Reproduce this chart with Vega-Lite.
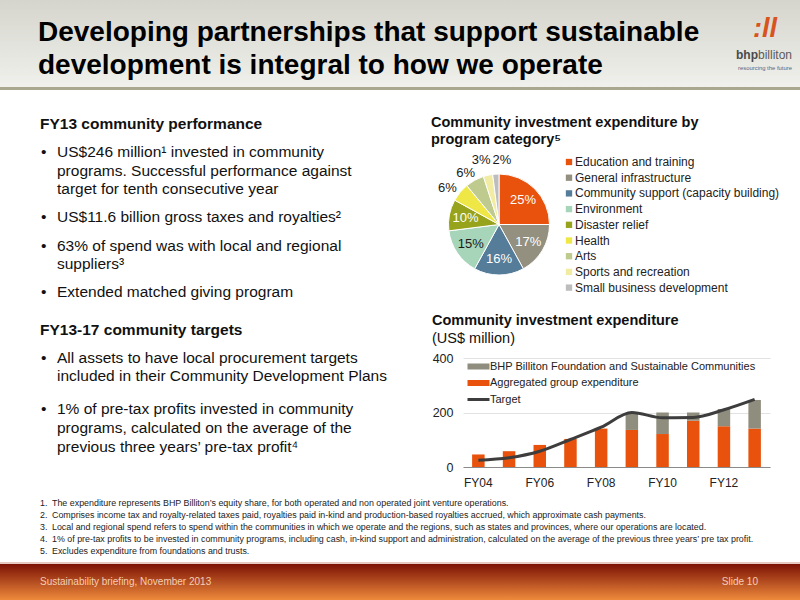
{
  "$schema": "https://vega.github.io/schema/vega-lite/v6.json",
  "padding": 0,
  "autosize": {"type": "pad"},
  "background": "white",
  "bounds": "full",
  "spacing": 0,
  "resolve": {"scale": {"color": "independent"}, "legend": {"color": "independent"}},
  "config": {"font": "Liberation Sans", "view": {"stroke": null}},
  "datasets": {
    "header": [
      {"part": "title", "role": "title", "line": 1, "text": "Developing partnerships that support sustainable"},
      {"part": "title", "role": "title", "line": 2, "text": "development is integral to how we operate"},
      {"part": "logo", "role": "glyph", "line": 0.88, "text": ":ll"},
      {"part": "logo", "role": "bhp", "line": 1.667, "text": "bhp"},
      {"part": "logo", "role": "billiton", "line": 1.667, "text": "billiton"},
      {"part": "logo", "role": "tagline", "line": 2.06, "text": "resourcing the future"}
    ],
    "left": [
      {"k": 0, "kind": "heading", "t": "FY13 community performance"},
      {"k": 3, "kind": "bullet", "t": "US$246 million¹ invested in community"},
      {"k": 5, "kind": "cont", "t": "programs. Successful performance against"},
      {"k": 7, "kind": "cont", "t": "target for tenth consecutive year"},
      {"k": 10, "kind": "bullet", "t": "US$11.6 billion gross taxes and royalties²"},
      {"k": 13, "kind": "bullet", "t": "63% of spend was with local and regional"},
      {"k": 15, "kind": "cont", "t": "suppliers³"},
      {"k": 18, "kind": "bullet", "t": "Extended matched giving program"},
      {"k": 22, "kind": "heading", "t": "FY13-17 community targets"},
      {"k": 25, "kind": "bullet", "t": "All assets to have local procurement targets"},
      {"k": 27, "kind": "cont", "t": "included in their Community Development Plans"},
      {"k": 30.5, "kind": "bullet", "t": "1% of pre-tax profits invested in community"},
      {"k": 32.5, "kind": "cont", "t": "programs, calculated on the average of the"},
      {"k": 34.5, "kind": "cont", "t": "previous three years’ pre-tax profit⁴"}
    ],
    "pie": [
      {"rank": 1, "category": "Education and training", "share": 25, "label": "25%"},
      {"rank": 2, "category": "General infrastructure", "share": 17, "label": "17%"},
      {"rank": 3, "category": "Community support (capacity building)", "share": 16, "label": "16%"},
      {"rank": 4, "category": "Environment", "share": 15, "label": "15%"},
      {"rank": 5, "category": "Disaster relief", "share": 10, "label": "10%"},
      {"rank": 6, "category": "Health", "share": 6, "label": "6%"},
      {"rank": 7, "category": "Arts", "share": 6, "label": "6%"},
      {"rank": 8, "category": "Sports and recreation", "share": 3, "label": "3%"},
      {"rank": 9, "category": "Small business development", "share": 2, "label": "2%"}
    ],
    "bars": [
      {"year": "FY04", "series": "Aggregated group expenditure", "value": 46},
      {"year": "FY05", "series": "Aggregated group expenditure", "value": 58},
      {"year": "FY06", "series": "Aggregated group expenditure", "value": 81},
      {"year": "FY07", "series": "Aggregated group expenditure", "value": 103},
      {"year": "FY08", "series": "Aggregated group expenditure", "value": 141},
      {"year": "FY09", "series": "Aggregated group expenditure", "value": 136},
      {"year": "FY10", "series": "Aggregated group expenditure", "value": 121},
      {"year": "FY11", "series": "Aggregated group expenditure", "value": 170},
      {"year": "FY12", "series": "Aggregated group expenditure", "value": 150},
      {"year": "FY13", "series": "Aggregated group expenditure", "value": 141},
      {"year": "FY09", "series": "BHP Billiton Foundation and Sustainable Communities", "value": 63},
      {"year": "FY10", "series": "BHP Billiton Foundation and Sustainable Communities", "value": 79},
      {"year": "FY11", "series": "BHP Billiton Foundation and Sustainable Communities", "value": 30},
      {"year": "FY12", "series": "BHP Billiton Foundation and Sustainable Communities", "value": 63},
      {"year": "FY13", "series": "BHP Billiton Foundation and Sustainable Communities", "value": 105}
    ],
    "target": [
      {"year": "FY04", "target": 25},
      {"year": "FY05", "target": 34},
      {"year": "FY06", "target": 58},
      {"year": "FY07", "target": 101},
      {"year": "FY08", "target": 146},
      {"year": "FY09", "target": 200},
      {"year": "FY10", "target": 181},
      {"year": "FY11", "target": 182},
      {"year": "FY12", "target": 210},
      {"year": "FY13", "target": 248}
    ],
    "notes": [
      {"n": 1, "num": "1.", "t": "The expenditure represents BHP Billiton’s equity share, for both operated and non operated joint venture operations."},
      {"n": 2, "num": "2.", "t": "Comprises income tax and royalty-related taxes paid, royalties paid in-kind and production-based royalties accrued, which approximate cash payments."},
      {"n": 3, "num": "3.", "t": "Local and regional spend refers to spend within the communities in which we operate and the regions, such as states and provinces, where our operations are located."},
      {"n": 4, "num": "4.", "t": "1% of pre-tax profits to be invested in community programs, including cash, in-kind support and administration, calculated on the average of the previous three years’ pre tax profit."},
      {"n": 5, "num": "5.", "t": "Excludes expenditure from foundations and trusts."}
    ],
    "footer": [
      {"side": "left", "t": "Sustainability briefing, November 2013"},
      {"side": "right", "t": "Slide 10"}
    ]
  },
  "vconcat": [
    {
      "width": 800,
      "height": 87,
      "view": {"stroke": null, "fill": {"gradient": "linear", "x1": 0, "y1": 0, "x2": 0, "y2": 1, "stops": [{"offset": 0, "color": "#d5d5cd"}, {"offset": 1, "color": "#f0f0ec"}]}},
      "data": {"name": "header"},
      "encoding": {
        "x": {"field": "part", "type": "nominal", "scale": {"type": "point", "domain": ["title", "logo"], "range": [38, 765], "padding": 0}, "axis": null},
        "y": {"field": "line", "type": "quantitative", "scale": {"domain": [0, 2.636], "reverse": true}, "axis": null},
        "text": {"field": "text"}
      },
      "layer": [
        {"transform": [{"filter": "datum.role === 'title'"}], "mark": {"type": "text", "align": "left", "fontSize": 28, "fontWeight": "bold", "color": "#000000"}},
        {"transform": [{"filter": "datum.role === 'glyph'"}], "mark": {"type": "text", "align": "center", "fontSize": 27, "fontWeight": "bold", "fontStyle": "italic", "color": "#d9531e"}},
        {"transform": [{"filter": "datum.role === 'bhp'"}], "mark": {"type": "text", "align": "right", "dx": -7, "fontSize": 12, "fontWeight": "bold", "color": "#4a4a4a"}},
        {"transform": [{"filter": "datum.role === 'billiton'"}], "mark": {"type": "text", "align": "left", "dx": -7, "fontSize": 12, "color": "#5a5a5a"}},
        {"transform": [{"filter": "datum.role === 'tagline'"}], "mark": {"type": "text", "align": "center", "fontSize": 5.9, "color": "#4f6688"}}
      ]
    },
    {
      "width": 800,
      "height": 3,
      "view": {"stroke": null, "fill": "#a9a78f"},
      "data": {"values": []},
      "mark": "text",
      "encoding": {}
    },
    {
      "hconcat": [
        {
          "width": 463,
          "height": 402,
          "data": {"name": "left"},
          "encoding": {
            "y": {"field": "k", "type": "quantitative", "scale": {"domain": [-3.636, 39.358], "reverse": true}, "axis": null},
            "text": {"field": "t"}
          },
          "layer": [
            {
              "transform": [{"filter": "datum.kind === 'heading'"}],
              "mark": {"type": "text", "align": "left", "fontSize": 15.5, "fontWeight": "bold", "color": "#111111"},
              "encoding": {"x": {"datum": "heading", "type": "nominal", "scale": {"type": "point", "domain": ["heading", "body"], "range": [40, 57], "padding": 0}, "axis": null}}
            },
            {
              "transform": [{"filter": "datum.kind !== 'heading'"}],
              "mark": {"type": "text", "align": "left", "fontSize": 15.5, "color": "#111111"},
              "encoding": {"x": {"datum": "body", "type": "nominal", "scale": {"type": "point", "domain": ["heading", "body"], "range": [40, 57], "padding": 0}, "axis": null}}
            },
            {
              "transform": [{"filter": "datum.kind === 'bullet'"}],
              "mark": {"type": "text", "align": "left", "dx": 1, "fontSize": 15.5, "color": "#111111"},
              "encoding": {
                "x": {"datum": "heading", "type": "nominal", "scale": {"type": "point", "domain": ["heading", "body"], "range": [40, 57], "padding": 0}, "axis": null},
                "text": {"value": "•"}
              }
            }
          ]
        },
        {
          "vconcat": [
            {"width": 72, "height": 1, "data": {"values": []}, "mark": "text", "encoding": {}},
            {
              "width": 72,
              "height": 111,
              "title": {"text": ["Community investment expenditure by", "program category⁵"], "anchor": "start", "frame": "group", "dx": -32, "offset": 5, "fontSize": 14.5, "fontWeight": "bold", "color": "#111111", "lineHeight": 17},
              "data": {"name": "pie"},
              "encoding": {
                "theta": {"field": "share", "type": "quantitative", "stack": true},
                "order": {"field": "rank", "type": "quantitative"},
                "color": {
                  "field": "category",
                  "type": "nominal",
                  "scale": {
                    "domain": ["Education and training", "General infrastructure", "Community support (capacity building)", "Environment", "Disaster relief", "Health", "Arts", "Sports and recreation", "Small business development"],
                    "range": ["#e8520c", "#939080", "#557c98", "#a6d5ba", "#97a31a", "#eee745", "#beca8e", "#f2eba2", "#bdbdbd"]
                  },
                  "legend": {"orient": "none", "legendX": 100, "legendY": -13, "title": null, "labelFontSize": 12, "labelColor": "#222222", "labelLimit": 400, "symbolType": "square", "symbolSize": 40, "symbolStrokeWidth": 0, "rowPadding": 3.7, "labelOffset": 0}
                }
              },
              "layer": [
                {"mark": {"type": "arc", "outerRadius": 50.5, "stroke": "white", "strokeWidth": 1}},
                {
                  "mark": {"type": "text", "radius": 34, "fontSize": 13},
                  "encoding": {
                    "text": {"condition": {"test": "datum.share >= 10", "field": "label"}, "value": ""},
                    "color": {"condition": {"test": "datum.category === 'Environment'", "value": "#1a1a1a"}, "value": "#ffffff"}
                  }
                },
                {
                  "mark": {"type": "text", "radius": 63, "fontSize": 13, "dx": -3, "dy": 4},
                  "encoding": {
                    "text": {"condition": {"test": "datum.category === 'Health' || datum.category === 'Arts'", "field": "label"}, "value": ""},
                    "color": {"value": "#1a1a1a"}
                  }
                },
                {
                  "mark": {"type": "text", "radius": 64, "fontSize": 13, "dx": -4, "dy": -2},
                  "encoding": {
                    "text": {"condition": {"test": "datum.category === 'Sports and recreation'", "field": "label"}, "value": ""},
                    "color": {"value": "#1a1a1a"}
                  }
                },
                {
                  "mark": {"type": "text", "radius": 64, "fontSize": 13, "dx": 7, "dy": -1},
                  "encoding": {
                    "text": {"condition": {"test": "datum.category === 'Small business development'", "field": "label"}, "value": ""},
                    "color": {"value": "#1a1a1a"}
                  }
                }
              ]
            },
            {
              "width": 307,
              "height": 109,
              "title": {"text": "Community investment expenditure", "subtitle": "(US$ million)", "anchor": "start", "frame": "group", "dx": -31, "offset": 6, "fontSize": 14.5, "fontWeight": "bold", "color": "#111111", "subtitleFontSize": 14.5, "subtitleColor": "#111111", "subtitlePadding": 3},
              "layer": [
                {
                  "data": {"name": "bars"},
                  "mark": {"type": "bar"},
                  "encoding": {
                    "x": {"field": "year", "type": "nominal", "scale": {"paddingInner": 0.593, "paddingOuter": 0.297}, "axis": {"values": ["FY04", "FY06", "FY08", "FY10", "FY12"], "title": null, "ticks": false, "labelAngle": 0, "labelFontSize": 12, "labelColor": "#222222", "labelPadding": 10, "domainColor": "#8a8a8a", "grid": false}},
                    "y": {"field": "value", "type": "quantitative", "stack": "zero", "scale": {"domain": [0, 400]}, "axis": {"values": [0, 200, 400], "title": null, "domain": false, "ticks": false, "labelFontSize": 12.5, "labelColor": "#222222", "labelPadding": 10, "gridColor": "#e2e2e2"}},
                    "color": {
                      "field": "series",
                      "type": "nominal",
                      "scale": {"domain": ["BHP Billiton Foundation and Sustainable Communities", "Aggregated group expenditure", "Target"], "range": ["#8f8d7d", "#e8520c", "#3d3d3d"]},
                      "legend": {
                        "orient": "none", "legendX": 10, "legendY": 3, "title": null, "labelFontSize": 11, "labelColor": "#222222", "labelLimit": 400, "symbolSize": 64, "rowPadding": 4.5, "labelOffset": 6,
                        "encode": {"symbols": {"update": {
                          "shape": {"signal": "datum.value === 'Target' ? 'M-2.75,0H2.75' : 'M-2.75,-0.75H2.75V0.75H-2.75Z'"},
                          "fill": {"signal": "datum.value === 'Target' ? 'transparent' : scale('color', datum.value)"},
                          "stroke": {"signal": "scale('color', datum.value)"},
                          "strokeWidth": {"signal": "datum.value === 'Target' ? 3 : 0"},
                          "opacity": {"value": 1}
                        }}}
                      }
                    },
                    "order": {"field": "series", "sort": "ascending"}
                  }
                },
                {
                  "data": {"name": "target"},
                  "mark": {"type": "line", "interpolate": "monotone", "strokeWidth": 3},
                  "encoding": {
                    "x": {"field": "year", "type": "nominal"},
                    "y": {"field": "target", "type": "quantitative"},
                    "color": {"datum": "Target", "type": "nominal"}
                  }
                }
              ]
            }
          ],
          "spacing": 78,
          "bounds": "flush",
          "resolve": {"scale": {"color": "independent"}, "legend": {"color": "independent"}}
        }
      ],
      "spacing": 0,
      "bounds": "flush",
      "resolve": {"scale": {"color": "independent"}, "legend": {"color": "independent"}}
    },
    {
      "width": 800,
      "height": 70,
      "data": {"name": "notes"},
      "encoding": {
        "y": {"field": "n", "type": "quantitative", "scale": {"domain": [0.0833, 5.9167], "reverse": true}, "axis": null}
      },
      "layer": [
        {
          "mark": {"type": "text", "align": "left", "fontSize": 8.9, "color": "#222222"},
          "encoding": {
            "x": {"datum": "num", "type": "nominal", "scale": {"type": "point", "domain": ["num", "text"], "range": [40, 52], "padding": 0}, "axis": null},
            "text": {"field": "num"}
          }
        },
        {
          "mark": {"type": "text", "align": "left", "fontSize": 8.9, "color": "#222222"},
          "encoding": {
            "x": {"datum": "text", "type": "nominal", "scale": {"type": "point", "domain": ["num", "text"], "range": [40, 52], "padding": 0}, "axis": null},
            "text": {"field": "t"}
          }
        }
      ]
    },
    {
      "width": 800,
      "height": 2,
      "view": {"stroke": null, "fill": "#e6c9c1"},
      "data": {"values": []},
      "mark": "text",
      "encoding": {}
    },
    {
      "width": 800,
      "height": 36,
      "view": {"stroke": null, "fill": {"gradient": "linear", "x1": 0, "y1": 0, "x2": 0, "y2": 1, "stops": [{"offset": 0, "color": "#7c1206"}, {"offset": 1, "color": "#ee8a3c"}]}},
      "data": {"name": "footer"},
      "encoding": {
        "x": {"field": "side", "type": "nominal", "scale": {"type": "point", "domain": ["left", "right"], "range": [40, 758], "padding": 0}, "axis": null},
        "text": {"field": "t"}
      },
      "layer": [
        {"transform": [{"filter": "datum.side === 'left'"}], "mark": {"type": "text", "align": "left", "fontSize": 10, "color": "#f3cdb5"}},
        {"transform": [{"filter": "datum.side === 'right'"}], "mark": {"type": "text", "align": "right", "fontSize": 10, "color": "#f3cdb5"}}
      ]
    }
  ]
}
